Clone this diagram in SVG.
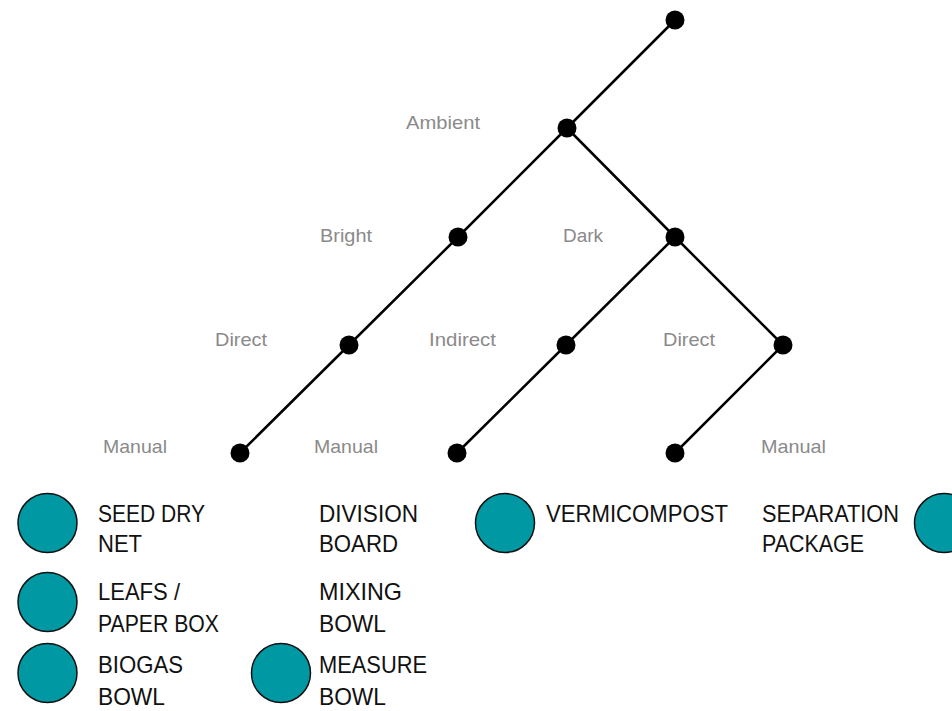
<svg xmlns="http://www.w3.org/2000/svg" width="952" height="711" viewBox="0 0 952 711">
  <style>
    .edge { stroke: #000; stroke-width: 2.5; fill: none; stroke-linecap: round; }
    .dot { fill: #000; }
    .lvl { font-family: "Liberation Sans", Arial, sans-serif; font-size: 19px; fill: #8a8a8a; }
    .item { font-family: "Liberation Sans", Arial, sans-serif; font-size: 24px; fill: #111; }
    .disc { fill: #0099a3; stroke: #111; stroke-width: 1.5; }
  </style>
  <rect width="952" height="711" fill="#fff"/>

  <!-- tree branches -->
  <g id="connectors">
    <line class="edge" x1="675" y1="20" x2="567" y2="128"/>
    <line class="edge" x1="567" y1="128" x2="458" y2="237"/>
    <line class="edge" x1="567" y1="128" x2="675" y2="237"/>
    <line class="edge" x1="458" y1="237" x2="349" y2="345"/>
    <line class="edge" x1="675" y1="237" x2="566" y2="345"/>
    <line class="edge" x1="675" y1="237" x2="783" y2="345"/>
    <line class="edge" x1="349" y1="345" x2="240" y2="453"/>
    <line class="edge" x1="566" y1="345" x2="457" y2="453"/>
    <line class="edge" x1="783" y1="345" x2="675" y2="453"/>
  </g>

  <!-- tree nodes -->
  <g id="node-root"><circle class="dot" cx="675" cy="20" r="9.5"/></g>
  <g id="node-ambient"><circle class="dot" cx="567" cy="128" r="9.5"/></g>
  <g id="node-bright"><circle class="dot" cx="458" cy="237" r="9.5"/></g>
  <g id="node-dark"><circle class="dot" cx="675" cy="237" r="9.5"/></g>
  <g id="node-direct-1"><circle class="dot" cx="349" cy="345" r="9.5"/></g>
  <g id="node-indirect"><circle class="dot" cx="566" cy="345" r="9.5"/></g>
  <g id="node-direct-2"><circle class="dot" cx="783" cy="345" r="9.5"/></g>
  <g id="node-manual-1"><circle class="dot" cx="240" cy="453" r="9.5"/></g>
  <g id="node-manual-2"><circle class="dot" cx="457" cy="453" r="9.5"/></g>
  <g id="node-manual-3"><circle class="dot" cx="675" cy="453" r="9.5"/></g>

  <!-- level labels -->
  <g id="labels">
    <text class="lvl" x="406" y="129" textLength="74" lengthAdjust="spacingAndGlyphs">Ambient</text>
    <text class="lvl" x="320" y="242" textLength="52" lengthAdjust="spacingAndGlyphs">Bright</text>
    <text class="lvl" x="563" y="242" textLength="40" lengthAdjust="spacingAndGlyphs">Dark</text>
    <text class="lvl" x="215" y="346" textLength="52" lengthAdjust="spacingAndGlyphs">Direct</text>
    <text class="lvl" x="429" y="346" textLength="67" lengthAdjust="spacingAndGlyphs">Indirect</text>
    <text class="lvl" x="663" y="346" textLength="52" lengthAdjust="spacingAndGlyphs">Direct</text>
    <text class="lvl" x="103" y="453" textLength="64" lengthAdjust="spacingAndGlyphs">Manual</text>
    <text class="lvl" x="314" y="453" textLength="64" lengthAdjust="spacingAndGlyphs">Manual</text>
    <text class="lvl" x="761" y="453" textLength="65" lengthAdjust="spacingAndGlyphs">Manual</text>
  </g>

  <!-- item legend -->
  <g id="item-seed-dry-net">
    <circle class="disc" cx="47.5" cy="523" r="29.5"/>
    <text class="item" x="98" y="522" textLength="107" lengthAdjust="spacingAndGlyphs">SEED DRY</text>
    <text class="item" x="98" y="552" textLength="44" lengthAdjust="spacingAndGlyphs">NET</text>
  </g>
  <g id="item-leafs-paper-box">
    <circle class="disc" cx="47.5" cy="602" r="29.5"/>
    <text class="item" x="98" y="600" textLength="82" lengthAdjust="spacingAndGlyphs">LEAFS /</text>
    <text class="item" x="98" y="632" textLength="121" lengthAdjust="spacingAndGlyphs">PAPER BOX</text>
  </g>
  <g id="item-biogas-bowl">
    <circle class="disc" cx="47.5" cy="673" r="29.5"/>
    <text class="item" x="98" y="673" textLength="85" lengthAdjust="spacingAndGlyphs">BIOGAS</text>
    <text class="item" x="98" y="705" textLength="67" lengthAdjust="spacingAndGlyphs">BOWL</text>
  </g>
  <g id="item-division-board">
    <text class="item" x="319" y="522" textLength="99" lengthAdjust="spacingAndGlyphs">DIVISION</text>
    <text class="item" x="319" y="552" textLength="79" lengthAdjust="spacingAndGlyphs">BOARD</text>
  </g>
  <g id="item-mixing-bowl">
    <text class="item" x="319" y="600" textLength="83" lengthAdjust="spacingAndGlyphs">MIXING</text>
    <text class="item" x="319" y="632" textLength="67" lengthAdjust="spacingAndGlyphs">BOWL</text>
  </g>
  <g id="item-measure-bowl">
    <circle class="disc" cx="281" cy="673" r="29.5"/>
    <text class="item" x="319" y="673" textLength="108" lengthAdjust="spacingAndGlyphs">MEASURE</text>
    <text class="item" x="319" y="705" textLength="67" lengthAdjust="spacingAndGlyphs">BOWL</text>
  </g>
  <g id="item-vermicompost">
    <circle class="disc" cx="505" cy="523" r="29.5"/>
    <text class="item" x="546" y="522" textLength="182" lengthAdjust="spacingAndGlyphs">VERMICOMPOST</text>
  </g>
  <g id="item-separation-package">
    <text class="item" x="762" y="522" textLength="137" lengthAdjust="spacingAndGlyphs">SEPARATION</text>
    <text class="item" x="762" y="552" textLength="102" lengthAdjust="spacingAndGlyphs">PACKAGE</text>
    <circle class="disc" cx="944" cy="523" r="29.5"/>
  </g>
</svg>
